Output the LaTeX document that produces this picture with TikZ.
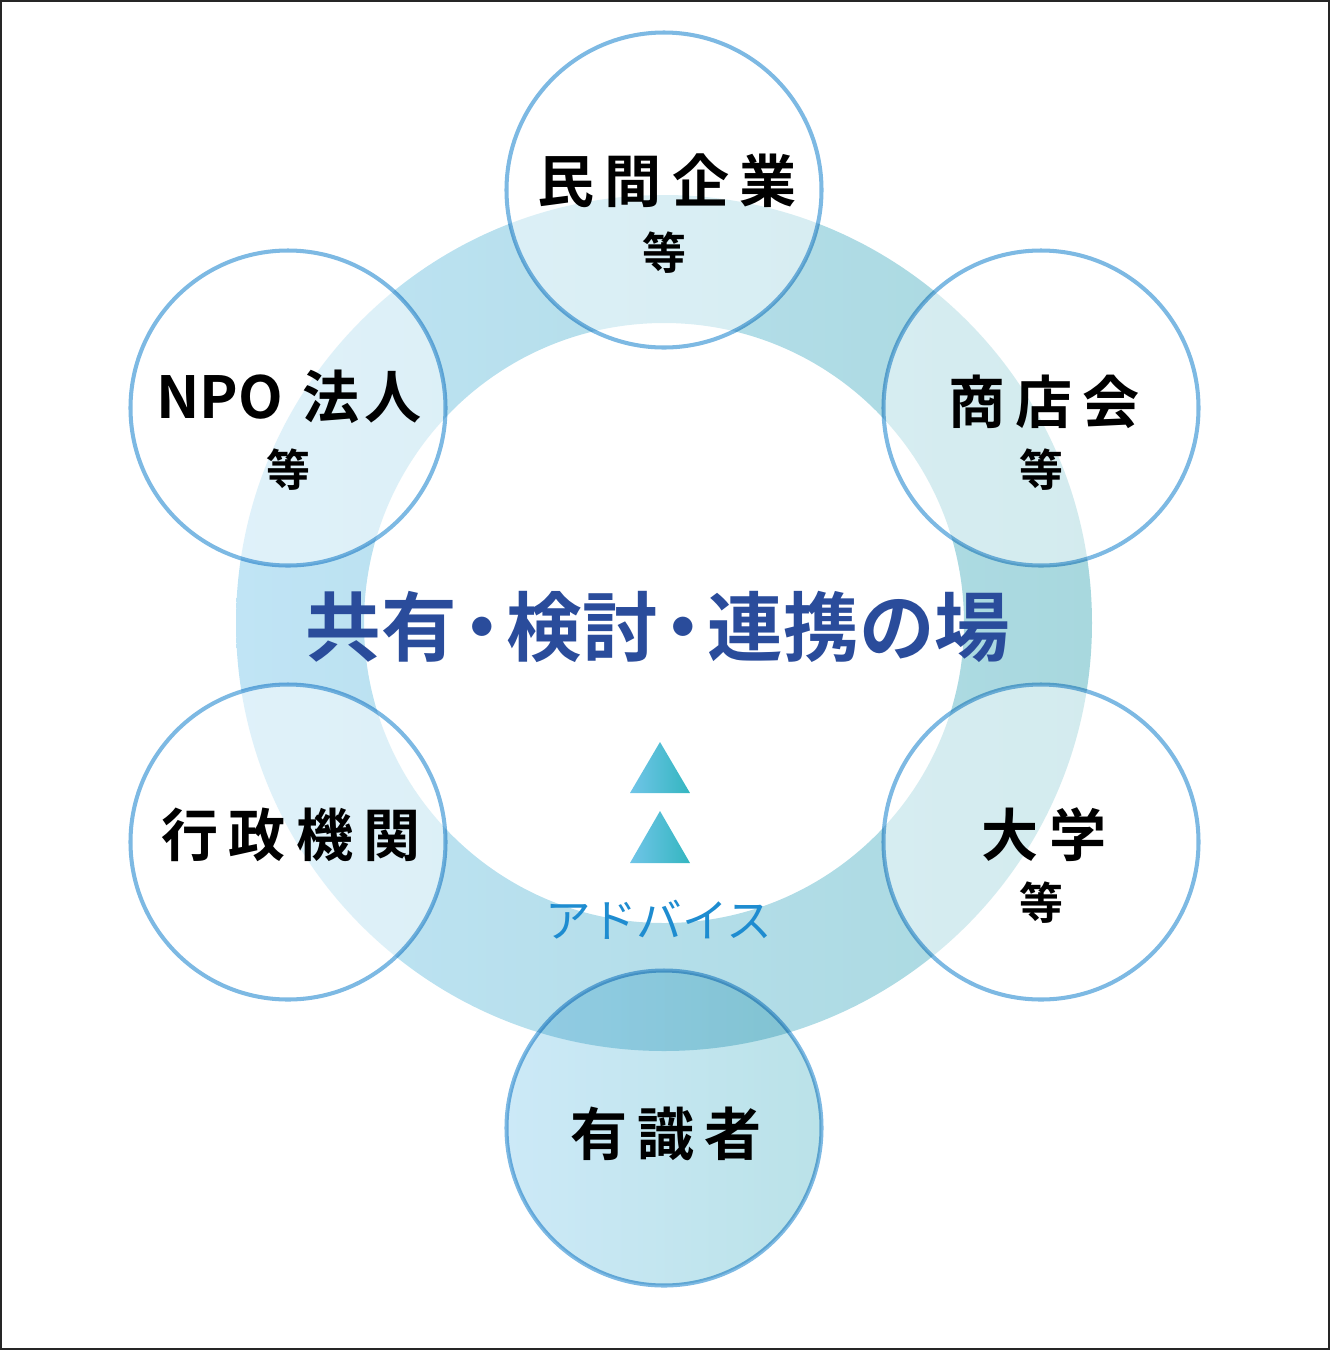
\documentclass[tikz,border=0pt]{standalone}
\usepackage{fontspec}
\setmainfont{Noto Sans CJK JP}[BoldFont=* Bold]
\newfontfamily\jpspaced{Noto Sans CJK JP}[LetterSpace=18, BoldFont=* Bold]
\usepackage{xcolor}
\usepackage{tikz}
\usetikzlibrary{positioning}
\definecolor{ringblue}{RGB}{192,228,245}
\definecolor{ringteal}{RGB}{168,216,222}
\definecolor{edgeblue}{RGB}{125,185,227}
\definecolor{titleblue}{RGB}{42,76,155}
\definecolor{adviceblue}{RGB}{30,140,208}
\definecolor{triblue}{RGB}{112,197,232}
\definecolor{triteal}{RGB}{52,182,192}
\definecolor{expertblue}{RGB}{204,233,247}
\definecolor{expertteal}{RGB}{186,226,232}

\begin{document}
\begin{tikzpicture}[
    x=0.02cm, y=-0.02cm,
    member/.style={circle, fill=white, fill opacity=0.5, minimum size=6.3cm, inner sep=0pt},
    rim/.style={draw=edgeblue, line width=2.3pt},
    orgname/.style={font=\jpspaced\bfseries\fontsize{32.5pt}{32.5pt}\selectfont, inner sep=0pt},
    etcname/.style={font=\bfseries\fontsize{25pt}{25pt}\selectfont, inner sep=0pt},
]
\useasboundingbox (0,0) rectangle (1330,1350);
\draw[line width=1.1pt, black!85] (1,1) rectangle (1329,1349);

\coordinate (hub) at (664,623);
\shade[left color=ringblue, right color=ringteal, even odd rule]
    (hub) circle[radius=428] (hub) circle[radius=300];

\node[member] (corp) at (664,190)  {};
\node[member] (npo)  at (288,408)  {};
\node[member] (shop) at (1041,408) {};
\node[member] (gov)  at (288,842)  {};
\node[member] (univ) at (1041,842) {};
\begin{scope}[blend mode=multiply]
\node[circle, minimum size=6.3cm, inner sep=0pt, left color=expertblue, right color=expertteal] (expert) at (664,1128) {};
\foreach \m in {corp,npo,shop,gov,univ,expert}
    \draw[rim] (\m) circle[radius=157.5];
\end{scope}

\node[orgname] (corpname) at (667,181)  {民間企業};
\node[etcname] (corpetc)  at (664,253)  {等};
\node[font=\bfseries\fontsize{32.5pt}{32.5pt}\selectfont, inner sep=0pt] (nponame) at (289,397)
    {{\fontsize{33pt}{33pt}\selectfont NPO}\hspace{11pt}法\hspace{3pt}人};
\node[etcname] (npoetc)   at (288,470)  {等};
\node[orgname] (shopname) at (1044,402) {商店会};
\node[etcname] (shopetc)  at (1041,470) {等};
\node[orgname] (govname)  at (291,835)  {行政機関};
\node[orgname] (univname) at (1044,835) {大学};
\node[etcname] (univetc)  at (1041,903) {等};
\node[orgname] (expertname) at (666,1134) {有識者};

\node[font=\bfseries\fontsize{43pt}{43pt}\selectfont, text=titleblue, inner sep=0pt] (title) at (658,627)
    {共有\kern-.17em・\kern-.17em検討\kern-.17em・\kern-.17em連携の場};

\shade[left color=triblue, right color=triteal] (630,793) -- (690,793) -- (660,742) -- cycle;
\shade[left color=triblue, right color=triteal] (630,863) -- (690,863) -- (660,811) -- cycle;
\node[font=\fontsize{26pt}{26pt}\selectfont, text=adviceblue, inner sep=0pt] (advice) at (659,920) {アドバイス};
\end{tikzpicture}
\end{document}
